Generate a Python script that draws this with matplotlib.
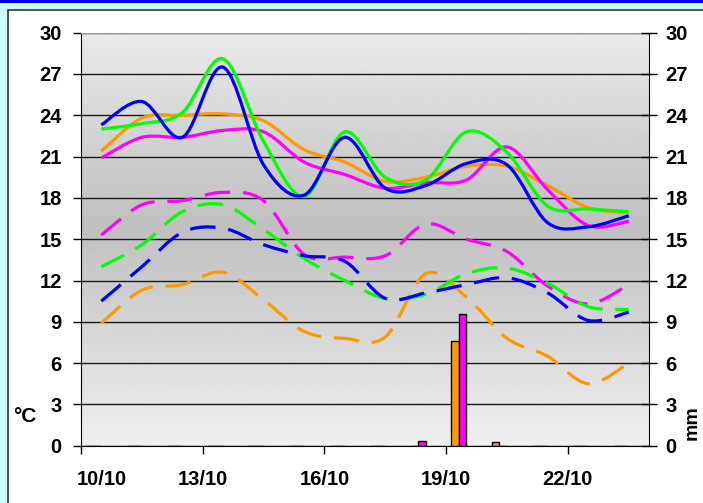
import numpy as np
import matplotlib.pyplot as plt
import matplotlib.transforms as mtransforms
from matplotlib.path import Path
from matplotlib.patches import PathPatch, Rectangle

plt.rcParams['font.family'] = ['Liberation Sans', 'DejaVu Sans']
plt.rcParams['font.weight'] = 'bold'

# Data
days = ['10/10', '11/10', '12/10', '13/10', '14/10', '15/10', '16/10',
        '17/10', '18/10', '19/10', '20/10', '21/10', '22/10', '23/10']
tick_days = ['10/10', '13/10', '16/10', '19/10', '22/10']

# maximum temperatures (solid lines), °C
tmax_orange = [21.4, 23.8, 24.0, 24.1, 23.6, 21.5, 20.6, 19.2, 19.5, 20.3, 20.3, 18.9, 17.3, 16.9]
tmax_magenta = [20.9, 22.4, 22.4, 22.9, 22.8, 20.6, 19.7, 18.7, 19.1, 19.3, 21.7, 18.6, 16.0, 16.3]
tmax_green = [23.0, 23.4, 24.2, 28.1, 22.1, 18.1, 22.8, 19.5, 19.3, 22.8, 21.3, 17.4, 17.2, 17.0]
tmax_blue = [23.3, 25.0, 22.4, 27.5, 20.4, 18.2, 22.4, 18.7, 18.9, 20.5, 20.4, 16.2, 15.9, 16.7]

# minimum temperatures (dashed lines), °C
tmin_orange = [8.9, 11.3, 11.7, 12.6, 10.6, 8.3, 7.8, 7.9, 12.5, 10.8, 7.8, 6.5, 4.5, 6.0]
tmin_magenta = [15.3, 17.5, 17.8, 18.4, 17.8, 13.9, 13.7, 13.8, 16.1, 15.0, 14.1, 11.6, 10.3, 11.7]
tmin_green = [13.0, 14.6, 17.0, 17.5, 15.7, 13.6, 12.0, 10.7, 11.0, 12.5, 12.9, 11.8, 10.1, 9.9]
tmin_blue = [10.5, 13.0, 15.5, 15.8, 14.6, 13.8, 13.4, 10.7, 11.1, 11.7, 12.2, 11.1, 9.1, 9.7]

# rainfall, mm
rain_orange = [0, 0, 0, 0, 0, 0, 0, 0, 0, 7.6, 0.25, 0, 0, 0]
rain_magenta = [0, 0, 0, 0, 0, 0, 0, 0, 0.35, 9.6, 0, 0, 0, 0]

ORANGE = '#ff9900'
MAGENTA = '#ff00ff'
GREEN = '#00ff00'
BLUE = '#0000ff'


def smooth_path(x, y):
    """Excel-style smoothed line as a cubic Bezier path through the points."""
    pts = np.column_stack([x, y]).astype(float)
    n = len(pts)
    verts = [pts[0]]
    codes = [Path.MOVETO]
    for i in range(n - 1):
        p0 = pts[max(i - 1, 0)]
        p1 = pts[i]
        p2 = pts[i + 1]
        p3 = pts[min(i + 2, n - 1)]
        verts += [p1 + (p2 - p0) / 6, p2 - (p3 - p1) / 6, p2]
        codes += [Path.CURVE4] * 3
    return Path(verts, codes)


fig = plt.figure(figsize=(7.03, 5.03), dpi=100, facecolor='#ccffff')

# white chart panel and blue strip at the top
fig.patches.append(Rectangle((8 / 703, -0.1), 1.2, 1 - 10 / 503 + 0.1,
                             transform=fig.transFigure, facecolor='white',
                             edgecolor='#333333', lw=1.2, zorder=-1))
fig.patches.append(Rectangle((0, 1 - 3 / 503), 1, 3 / 503, transform=fig.transFigure,
                             facecolor='#0000ee', edgecolor='none', zorder=-1))

ax = fig.add_axes([81 / 703, 1 - 445.7 / 503, 568 / 703, 413 / 503])
x = np.arange(len(days)) + 0.5

# grey gradient background
v = np.linspace(30, 0, 200)
shade = 0.75 + 0.19 * np.abs(v - 16) / 16
ax.imshow(shade[:, None], extent=[0, 14, 0, 30], aspect='auto', cmap='gray',
          vmin=0, vmax=1, interpolation='bilinear', zorder=0)

for vals, col in [(tmax_orange, ORANGE), (tmax_magenta, MAGENTA),
                  (tmax_green, GREEN), (tmax_blue, BLUE)]:
    ax.add_patch(PathPatch(smooth_path(x, vals), fill=False, edgecolor=col,
                           lw=2.3, joinstyle='round', capstyle='butt', zorder=3))

for vals, col in [(tmin_orange, ORANGE), (tmin_magenta, MAGENTA),
                  (tmin_green, GREEN), (tmin_blue, BLUE)]:
    ax.add_patch(PathPatch(smooth_path(x, vals), fill=False, edgecolor=col,
                           lw=2.3, linestyle=(0, (8, 4)), joinstyle='round',
                           capstyle='butt', zorder=3))

ax.set_xlim(0, 14)
ax.set_ylim(0, 30)
ax.set_yticks(range(0, 31, 3))
ax.grid(axis='y', color='#1a1a1a', lw=1)
ax.set_xticks([0, 3, 6, 9, 12], tick_days)
ax.tick_params(axis='x', direction='out', length=5.8, width=1, pad=12, labelsize=14.5)
ax.tick_params(axis='y', direction='out', length=5.8, width=1, pad=8, labelsize=14.5)
for s in ['left', 'bottom']:
    ax.spines[s].set_color('black')
ax.spines['top'].set_color('#999999')
ax.spines['right'].set_visible(False)

# first date label sits a little to the right of its tick
lab0 = ax.get_xticklabels()[0]
lab0.set_transform(lab0.get_transform() +
                   mtransforms.ScaledTranslation(0.205, 0, fig.dpi_scale_trans))

# rainfall bars on the right axis
ax2 = ax.twinx()
w = 0.1875
ax2.bar(x - 1.5 * w, rain_orange, width=w, color=ORANGE, edgecolor='black', lw=1)
ax2.bar(x - 0.5 * w, rain_magenta, width=w, color=MAGENTA, edgecolor='black', lw=1)
ax2.set_ylim(0, 30)
ax2.set_yticks(range(0, 31, 3))
ax2.tick_params(axis='y', direction='inout', length=12, width=1, pad=6, labelsize=14.5)
for s in ['left', 'top', 'bottom']:
    ax2.spines[s].set_visible(False)
ax2.spines['right'].set_color('black')

fig.text(25 / 703, 1 - 417 / 503, '°C', ha='center', va='center', fontsize=15,
         weight='bold')
fig.text(692 / 703, 1 - 423 / 503, 'mm', ha='center', va='center', fontsize=14,
         weight='bold', rotation=90)

fig.savefig('out.png', dpi=100, facecolor=fig.get_facecolor())
